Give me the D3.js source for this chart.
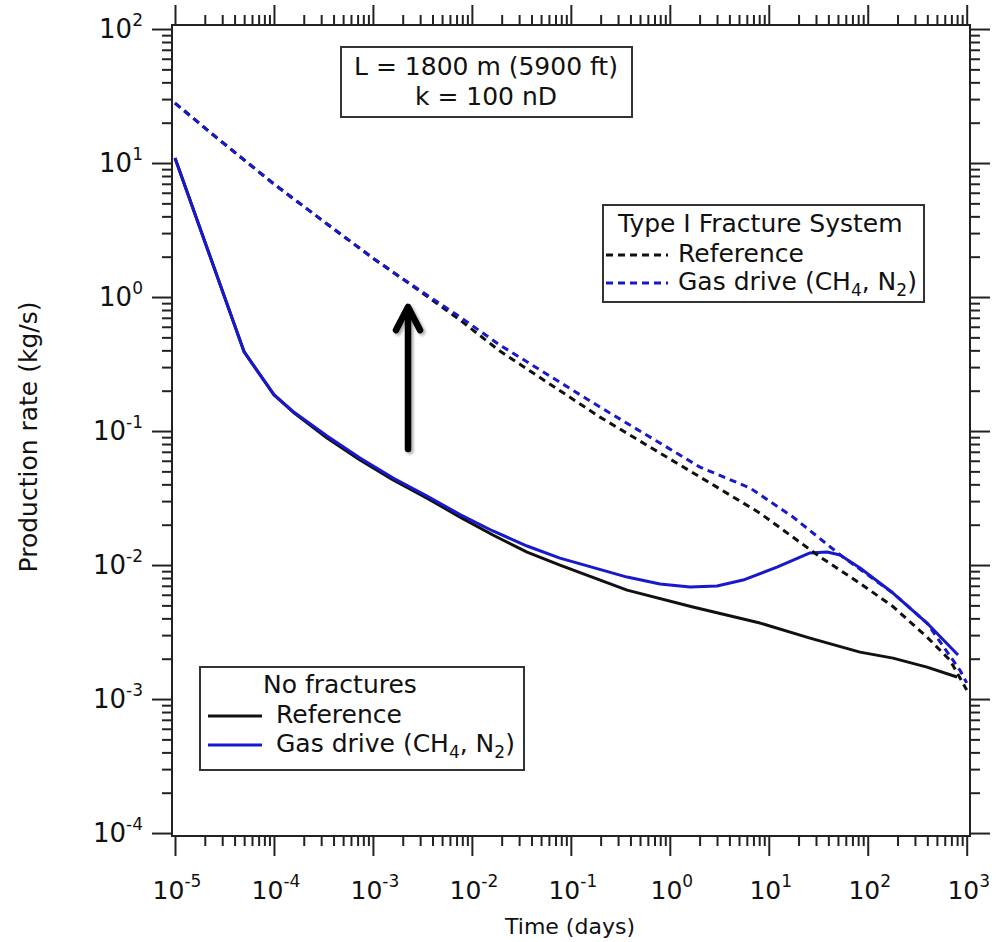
<!DOCTYPE html>
<html>
<head>
<meta charset="utf-8">
<script src="https://cdn.jsdelivr.net/npm/d3@7"></script>
<style>
  body { margin: 0; background: #fff; }
  text { font-family: "DejaVu Sans", Verdana, sans-serif; fill: #111; }
</style>
</head>
<body>
<script>
// ---- data (time in days, rate in kg/s) ----
var fracRefTime = [1e-5, 2.65e-5, 1e-4, 3.44e-4, 1e-3, 1.88e-3, 7.6e-3, 0.0192, 0.197, 2.02, 8.15, 33, 83.6, 180, 397, 678, 1000];
var fracRefRate = [28.0, 15.4, 6.97, 3.51, 1.95, 1.41, 0.673, 0.395, 0.127, 0.0454, 0.0244, 0.0115, 0.0073, 0.0049, 0.0029, 0.00195, 0.00117];

var fracGasTime = [1e-5, 2.65e-5, 1e-4, 3.44e-4, 1e-3, 1.88e-3, 7.6e-3, 0.0192, 0.197, 2.02, 6.46, 17.6, 56, 180, 397, 855, 1000];
var fracGasRate = [28.0, 15.4, 6.97, 3.51, 1.95, 1.41, 0.709, 0.438, 0.151, 0.0538, 0.0376, 0.0228, 0.0115, 0.00618, 0.00369, 0.00164, 0.00132];

var noFracRefTime = [1e-5, 5e-5, 1e-4, 1.556e-4, 3.44e-4, 7.4e-4, 1.6e-3, 3.52e-3, 7.6e-3, 0.0163, 0.0361, 0.0776, 0.37, 1.71, 8.15, 26.1, 83.6, 180, 397, 798];
var noFracRefRate = [10.9, 0.389, 0.186, 0.1387, 0.0887, 0.0608, 0.0431, 0.0316, 0.0228, 0.01675, 0.0125, 0.0100, 0.0065, 0.00486, 0.00369, 0.00285, 0.00224, 0.00202, 0.00173, 0.00146];

var noFracGasTime = [1e-5, 5e-5, 1e-4, 1.556e-4, 3.44e-4, 7.4e-4, 1.6e-3, 3.52e-3, 7.6e-3, 0.0163, 0.0361, 0.0776, 0.37, 0.796, 1.6, 3.0, 5.5, 12.1, 26.1, 38.8, 52.5, 83.6, 180, 397, 817];
var noFracGasRate = [10.9, 0.389, 0.187, 0.140, 0.0918, 0.0629, 0.0446, 0.0327, 0.0238, 0.01795, 0.01387, 0.01127, 0.00813, 0.00721, 0.00686, 0.00697, 0.00773, 0.00966, 0.0123, 0.0125, 0.0119, 0.0095, 0.00618, 0.00369, 0.00213];

var xDecades = [-5, -4, -3, -2, -1, 0, 1, 2, 3];
var yDecades = [-4, -3, -2, -1, 0, 1, 2];

var blue = "#1818cc";
var width = 1000, height = 942;
// plot frame edges
var frameLeft = 172, frameRight = 970, frameTop = 25, frameBottom = 836;

var svg = d3.select("body").append("svg")
    .attr("width", width)
    .attr("height", height);

svg.append("rect").attr("width", width).attr("height", height).attr("fill", "#fff");

var defs = svg.append("defs");
defs.append("filter").attr("id", "shadow")
    .attr("x", "-50%").attr("y", "-20%").attr("width", "200%").attr("height", "140%")
  .append("feDropShadow")
    .attr("dx", 2).attr("dy", 2).attr("stdDeviation", 1.5)
    .attr("flood-color", "#000").attr("flood-opacity", 0.35);

var x = d3.scaleLog()
    .domain([Math.pow(10, -5.0303), Math.pow(10, 3.0333)])
    .range([frameLeft, frameRight]);
var y = d3.scaleLog()
    .domain([Math.pow(10, -4.022), Math.pow(10, 2.03)])
    .range([frameBottom, frameTop]);

// major and minor tick values
function minors(decades) {
    var out = [];
    decades.forEach(function(d) {
        for (var k = 2; k <= 9; k++) out.push(k * Math.pow(10, d));
    });
    return out;
}
var xMajor = xDecades.map(d => Math.pow(10, d));
var xMinor = minors(xDecades.slice(0, -1));
var yMajor = yDecades.map(d => Math.pow(10, d));
var yMinor = minors(yDecades.slice(0, -1));

function tickAxis(axis, g) {
    g.call(axis);
    g.select(".domain").remove();
    g.selectAll(".tick line").attr("stroke", "#222").attr("stroke-width", 2);
    g.selectAll(".tick text").remove();
}

[[d3.axisBottom, "translate(0," + frameBottom + ")", x, xMajor, xMinor],
 [d3.axisTop, "translate(0," + frameTop + ")", x, xMajor, xMinor],
 [d3.axisLeft, "translate(" + frameLeft + ",0)", y, yMajor, yMinor],
 [d3.axisRight, "translate(" + frameRight + ",0)", y, yMajor, yMinor]
].forEach(function(a) {
    var maker = a[0];
    tickAxis(maker(a[2]).tickValues(a[4]).tickSize(10).tickFormat(""),
        svg.append("g").attr("transform", a[1]));
    tickAxis(maker(a[2]).tickValues(a[3]).tickSize(20).tickFormat(""),
        svg.append("g").attr("transform", a[1]));
});

// plot frame
svg.append("rect")
    .attr("x", frameLeft).attr("y", frameTop)
    .attr("width", frameRight - frameLeft).attr("height", frameBottom - frameTop)
    .attr("fill", "none")
    .attr("stroke", "#222")
    .attr("stroke-width", 2);

// tick labels with superscripts
function powerLabel(sel, d) {
    sel.append("tspan").text("10");
    sel.append("tspan").attr("dy", -12).attr("font-size", 17).text(d);
}
svg.append("g").selectAll("text")
    .data(xDecades)
    .enter().append("text")
    .attr("x", d => x(Math.pow(10, d)) + 2)
    .attr("y", 899)
    .attr("text-anchor", "middle")
    .attr("font-size", 25)
    .each(function(d) { powerLabel(d3.select(this), d); });

svg.append("g").selectAll("text")
    .data(yDecades)
    .enter().append("text")
    .attr("x", 143)
    .attr("y", d => y(Math.pow(10, d)) + 9)
    .attr("text-anchor", "end")
    .attr("font-size", 26)
    .each(function(d) { powerLabel(d3.select(this), d); });

// axis titles
svg.append("text")
    .attr("transform", "translate(37,437) rotate(-90)")
    .attr("text-anchor", "middle")
    .attr("font-size", 25)
    .text("Production rate (kg/s)");
svg.append("text")
    .attr("x", 570).attr("y", 934)
    .attr("text-anchor", "middle")
    .attr("font-size", 22)
    .text("Time (days)");

// curves
var line = d3.line()
    .x(d => x(d[0]))
    .y(d => y(d[1]));

var series = [
    {t: noFracRefTime, q: noFracRefRate, color: "#111", dash: null},
    {t: noFracGasTime, q: noFracGasRate, color: blue, dash: null},
    {t: fracRefTime, q: fracRefRate, color: "#111", dash: "7,5"},
    {t: fracGasTime, q: fracGasRate, color: blue, dash: "7,5"}
];

svg.append("g").selectAll("path")
    .data(series)
    .enter().append("path")
    .attr("d", d => line(d3.zip(d.t, d.q)))
    .attr("fill", "none")
    .attr("stroke", d => d.color)
    .attr("stroke-width", 3)
    .attr("stroke-linejoin", "round")
    .attr("stroke-dasharray", d => d.dash);

// arrow
var arrow = svg.append("g")
    .attr("filter", "url(#shadow)")
    .attr("stroke", "#000")
    .attr("stroke-width", 6.5)
    .attr("fill", "none")
    .attr("stroke-linecap", "round")
    .attr("stroke-linejoin", "round");
arrow.append("line").attr("x1", 408).attr("y1", 449).attr("x2", 408).attr("y2", 309);
arrow.append("polyline").attr("points", "396,330 408,307 420,330");

// annotation box
svg.append("rect")
    .attr("x", 341).attr("y", 47).attr("width", 291).attr("height", 70)
    .attr("fill", "#fff").attr("stroke", "#333").attr("stroke-width", 2);
svg.append("text").attr("x", 486).attr("y", 75).attr("text-anchor", "middle")
    .attr("font-size", 25).text("L = 1800 m (5900 ft)");
svg.append("text").attr("x", 486).attr("y", 105).attr("text-anchor", "middle")
    .attr("font-size", 25).text("k = 100 nD");

// legends
function legend(box, title, titleX, rows) {
    var g = svg.append("g");
    g.append("rect")
        .attr("x", box[0]).attr("y", box[1]).attr("width", box[2]).attr("height", box[3])
        .attr("fill", "#fff").attr("stroke", "#333").attr("stroke-width", 2);
    g.append("text").attr("x", titleX).attr("y", rows[0].y - 30)
        .attr("font-size", 25).text(title);
    rows.forEach(function(r) {
        g.append("line")
            .attr("x1", r.x1).attr("x2", r.x2)
            .attr("y1", r.y - 7).attr("y2", r.y - 7)
            .attr("stroke", r.color)
            .attr("stroke-width", 3)
            .attr("stroke-dasharray", r.dash);
        var t = g.append("text").attr("x", r.tx).attr("y", r.y).attr("font-size", 25);
        if (r.label) {
            t.text(r.label);
        } else {
            t.append("tspan").text("Gas drive (CH");
            t.append("tspan").attr("dy", 6).attr("font-size", 17).text("4");
            t.append("tspan").attr("dy", -6).text(", N");
            t.append("tspan").attr("dy", 6).attr("font-size", 17).text("2");
            t.append("tspan").attr("dy", -6).text(")");
        }
    });
}

legend([603, 205, 321, 97], "Type I Fracture System", 618, [
    {y: 262, x1: 606, x2: 668, tx: 678, color: "#111", dash: "7,5", label: "Reference"},
    {y: 290, x1: 606, x2: 668, tx: 678, color: blue, dash: "7,5"}
]);
legend([200, 667, 324, 103], "No fractures", 263, [
    {y: 723, x1: 208, x2: 262, tx: 276, color: "#111", dash: null, label: "Reference"},
    {y: 752, x1: 208, x2: 262, tx: 276, color: blue, dash: null}
]);
</script>
</body>
</html>
